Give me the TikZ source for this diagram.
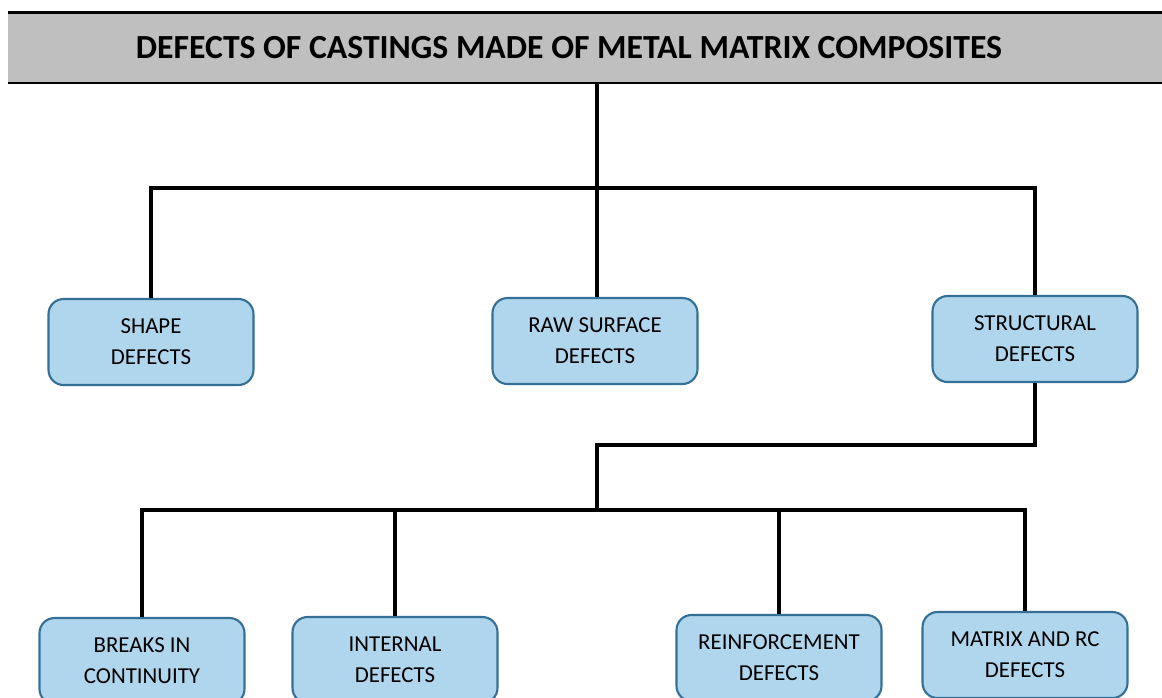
\documentclass[tikz,border=0pt]{standalone}
\usepackage{fontspec}
\setmainfont{Carlito}
\usepackage{xcolor}
\usetikzlibrary{positioning}

\definecolor{boxfill}{RGB}{176,214,237}
\definecolor{boxline}{RGB}{52,112,150}
\definecolor{bandgray}{RGB}{191,191,191}

\begin{document}
\begin{tikzpicture}[
    x=0.02cm, y=-0.02cm,
    defect/.style={rectangle, draw=boxline, line width=1.2pt, fill=boxfill, rounded corners=0.3cm, minimum width=4.1cm, minimum height=1.72cm, align=center, font=\fontsize{13}{17.5}\selectfont},
    band/.style={rectangle, fill=bandgray, inner sep=0pt, minimum width=23.24cm, minimum height=1.4cm},
    heading/.style={font=\bfseries\fontsize{19.2}{22}\selectfont},
    link/.style={line width=2.6pt},
]
    \useasboundingbox (0,0) rectangle (1162,697);
    \clip (0,0) rectangle (1162,697);

    % Title band
    \node[band] (band) at (589,48) {};
    \draw[line width=1.6pt] (band.north west) -- (band.north east);
    \draw[line width=1.1pt] (band.south west) -- (band.south east);
    \node[heading] (title) at (569,48) {DEFECTS OF CASTINGS MADE OF METAL MATRIX COMPOSITES};

    % First level
    \node[defect] (shape) at (151,342) {SHAPE\\DEFECTS};
    \node[defect] (raw) at (595,341) {RAW SURFACE\\DEFECTS};
    \node[defect] (struct) at (1035,339) {STRUCTURAL\\DEFECTS};

    % Second level
    \node[defect] (breaks) at (142,661) {BREAKS IN\\CONTINUITY};
    \node[defect] (internal) at (395,660) {INTERNAL\\DEFECTS};
    \node[defect] (reinf) at (779,658) {REINFORCEMENT\\DEFECTS};
    \node[defect] (matrix) at (1025,655) {MATRIX AND RC\\DEFECTS};

    % Junctions
    \coordinate (top_bar) at (597,188);
    \coordinate (mid_turn) at (597,445);
    \coordinate (low_bar) at (597,510);

    % Connect everything
    \draw[link] (band.south -| top_bar) -- (top_bar);
    \draw[link] (shape.north) |- (top_bar) -| (struct.north);
    \draw[link] (top_bar) -- (top_bar |- raw.north);
    \draw[link] (struct.south) |- (mid_turn) -- (low_bar);
    \draw[link] (breaks.north) |- (low_bar) -| (matrix.north);
    \draw[link] (internal.north) -- (internal.north |- low_bar);
    \draw[link] (reinf.north) -- (reinf.north |- low_bar);
\end{tikzpicture}
\end{document}
